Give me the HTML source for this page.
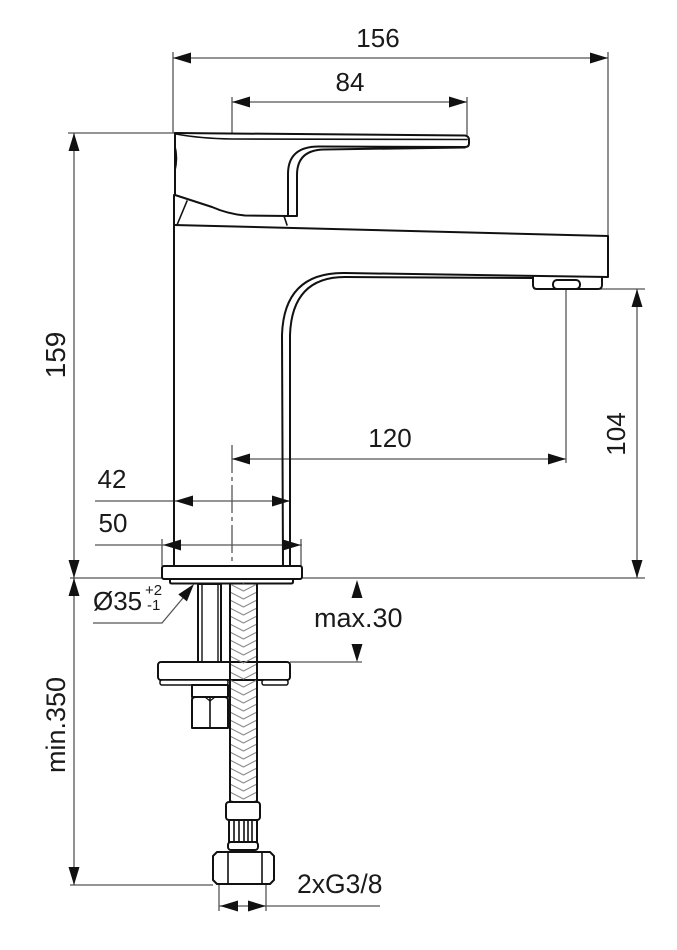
<!DOCTYPE html>
<html><head><meta charset="utf-8"><style>
html,body{margin:0;padding:0;background:#fff;}
svg{display:block;}
text{font-family:"Liberation Sans",Arial,sans-serif;fill:#1a1a1a;}
</style></head><body>
<svg width="677" height="950" viewBox="0 0 677 950" xmlns="http://www.w3.org/2000/svg">
<defs>
<pattern id="braid" x="230" y="0" width="27" height="8" patternUnits="userSpaceOnUse">
<path d="M0,0 L13.5,7 L27,0 M0,-8 L13.5,-1 L27,-8 M0,8 L13.5,15 L27,8" stroke="#888" stroke-width="1" fill="none"/>
</pattern>
</defs>

<!-- ========== DIMENSION / EXTENSION LINES ========== -->
<g stroke="#555" stroke-width="1.3" fill="none">
  <line x1="173" y1="58" x2="608" y2="58"/>
  <line x1="173" y1="52" x2="173" y2="133"/>
  <line x1="608" y1="52" x2="608" y2="237"/>
  <line x1="232" y1="102" x2="467" y2="102"/>
  <line x1="232" y1="97" x2="232" y2="134"/>
  <line x1="467" y1="97" x2="467" y2="135"/>
  <line x1="68" y1="133" x2="175" y2="133"/>
  <line x1="74" y1="133" x2="74" y2="885"/>
  <line x1="70" y1="885" x2="213" y2="885"/>
  <line x1="70" y1="578" x2="645" y2="578"/>
  <line x1="637" y1="289" x2="637" y2="578"/>
  <line x1="600" y1="289" x2="645" y2="289"/>
  <line x1="232" y1="459" x2="566" y2="459"/>
  <line x1="566" y1="289" x2="566" y2="463"/>
  <line x1="232" y1="445" x2="232" y2="566" stroke-dasharray="28 4 4 4"/>
  <line x1="95" y1="501" x2="290" y2="501"/>
  <line x1="95" y1="545" x2="302" y2="545"/>
  <line x1="162" y1="539" x2="162" y2="566"/>
  <line x1="301" y1="539" x2="301" y2="566"/>
  <line x1="290" y1="662" x2="362" y2="662"/>
  <polyline points="93,623 162,623 188,592"/>
  <line x1="219" y1="884" x2="219" y2="911"/>
  <line x1="266" y1="884" x2="266" y2="911"/>
  <line x1="219" y1="906" x2="380" y2="906"/>
</g>

<!-- ========== ARROWHEADS ========== -->
<g fill="#111">
  <polygon points="173,58 191,52.5 191,63.5"/>
  <polygon points="608,58 590,52.5 590,63.5"/>
  <polygon points="232,102 250,96.5 250,107.5"/>
  <polygon points="467,102 449,96.5 449,107.5"/>
  <polygon points="74,133 68.5,151 79.5,151"/>
  <polygon points="74,578 68.5,560 79.5,560"/>
  <polygon points="74,578 68.5,596 79.5,596"/>
  <polygon points="74,885 68.5,867 79.5,867"/>
  <polygon points="637,289 631.5,307 642.5,307"/>
  <polygon points="637,578 631.5,560 642.5,560"/>
  <polygon points="232,459 250,453.5 250,464.5"/>
  <polygon points="566,459 548,453.5 548,464.5"/>
  <polygon points="175,501 193,495.5 193,506.5"/>
  <polygon points="290,501 272,495.5 272,506.5"/>
  <polygon points="163,545 181,539.5 181,550.5"/>
  <polygon points="301,545 283,539.5 283,550.5"/>
  <polygon points="357,580 351.5,598 362.5,598"/>
  <polygon points="357,662 351.5,644 362.5,644"/>
  <polygon points="194,584 186.9,601.4 178.3,594.4"/>
  <polygon points="220,906 238,900.5 238,911.5"/>
  <polygon points="266,906 248,900.5 248,911.5"/>
</g>

<!-- ========== FAUCET BODY ========== -->
<g stroke="#111" stroke-width="2" fill="none" stroke-linejoin="round" stroke-linecap="round">
  <path d="M175,133 L465,135.5 Q469,136 469,140 L469,143.5 Q469,147 465,147 L320,146.5 Q288,146 288,174 L288,216 L297,216 L297,175 Q297,150 324,149.5 L465,147.5"/>
  <path d="M176,134 Q200,138.5 232,139 L467,139.5" stroke-width="1.6"/>
  <path d="M175,133 L175,195 L212,207 Q228,214 245,215.5 L288,216"/>
  <path d="M187,201 L177,225" stroke-width="1.6"/>
  <path d="M284,216 L287,225" stroke-width="1.6"/>
  <path d="M174,195 L174,566"/>
  <path d="M174,225 L608,236 L608,277 L345,273 Q284,272 282,335 L283,566"/>
  <path d="M533,278 L345,277 Q292,277 290,335 L290,566"/>
  <path d="M533,277 L533,285 Q533,289 537,289 L598,289 Q602,289 602,285 L602,277"/>
  <rect x="553" y="280" width="27" height="9" rx="4"/>
</g>
<path d="M175,145 Q178.5,158 175,172 Z" fill="#111" stroke="#111" stroke-width="1"/>

<!-- ========== BASE & INSTALLATION ========== -->
<g stroke="#111" stroke-width="2" fill="#fff" stroke-linejoin="round">
  <rect x="162" y="566" width="140" height="13" rx="2"/>
  <path d="M170,579 L170,582 Q170,583.5 172,583.5 L291,583.5 Q293,583.5 293,582 L293,579" fill="none"/>
  <rect x="198" y="584" width="23" height="78"/>
  <line x1="202" y1="584" x2="202" y2="662" stroke-width="1.4"/>
  <line x1="218" y1="584" x2="218" y2="662" stroke-width="1.4"/>
  <rect x="158" y="662" width="132" height="18" rx="3"/>
  <rect x="160" y="680" width="68" height="5" rx="2" stroke-width="1.5"/>
  <rect x="262" y="680" width="26" height="5" rx="2" stroke-width="1.5"/>
  <rect x="192" y="685" width="36" height="12"/>
  <path d="M192,700 Q192,697 196,697 L224,697 Q228,697 228,700 L228,728 L192,728 Z"/>
  <line x1="210" y1="697" x2="210" y2="728" stroke-width="1.6"/>
  <path d="M205,697 L210,701 L215,697" fill="none" stroke-width="1.2"/>
</g>

<rect x="230" y="583" width="27" height="219" fill="url(#braid)"/>
<g stroke="#111" stroke-width="2" fill="none">
  <line x1="230" y1="583" x2="230" y2="802"/>
  <line x1="257" y1="583" x2="257" y2="802"/>
</g>

<g stroke="#111" stroke-width="2" fill="#fff" stroke-linejoin="round">
  <rect x="226" y="802" width="34" height="18" rx="3"/>
  <rect x="229" y="820" width="28" height="22"/>
  <line x1="234" y1="820" x2="234" y2="842" stroke-width="1.6"/>
  <line x1="239" y1="820" x2="239" y2="842" stroke-width="1.6"/>
  <line x1="244" y1="820" x2="244" y2="842" stroke-width="1.6"/>
  <line x1="248" y1="820" x2="248" y2="842" stroke-width="1.6"/>
  <line x1="252" y1="820" x2="252" y2="842" stroke-width="1.6"/>
  <rect x="228" y="842" width="30" height="8" rx="3"/>
  <polygon points="213,856 217,852 270,852 274,856 274,880 270,884 217,884 213,880"/>
  <line x1="228" y1="852" x2="228" y2="884" stroke-width="1.6"/>
  <line x1="262" y1="852" x2="262" y2="884" stroke-width="1.6"/>
</g>

<!-- ========== TEXT ========== -->
<text x="378" y="47" font-size="26" text-anchor="middle">156</text>
<text x="350" y="91" font-size="26" text-anchor="middle">84</text>
<text x="390" y="447" font-size="26" text-anchor="middle">120</text>
<text x="112" y="488" font-size="26" text-anchor="middle">42</text>
<text x="113" y="532" font-size="26" text-anchor="middle">50</text>
<text x="314" y="627" font-size="27">max.30</text>
<text x="93" y="610" font-size="26">Ø35</text>
<text x="145" y="595" font-size="15">+2</text>
<text x="147" y="610" font-size="15">-1</text>
<text x="297" y="893" font-size="26.5">2xG3/8</text>
<text x="65" y="355" font-size="28" text-anchor="middle" transform="rotate(-90 65 355)">159</text>
<text x="625" y="434" font-size="26" text-anchor="middle" transform="rotate(-90 625 434)">104</text>
<text x="65" y="725" font-size="27" text-anchor="middle" transform="rotate(-90 65 725)">min.350</text>
</svg>
</body></html>
